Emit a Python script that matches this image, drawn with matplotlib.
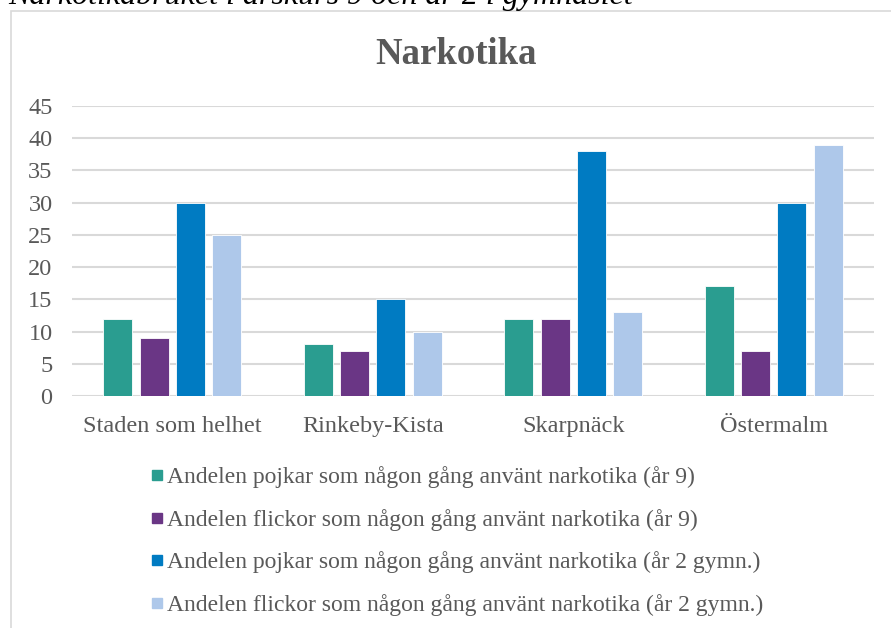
import numpy as np
import matplotlib.pyplot as plt
from matplotlib.patches import Rectangle
from matplotlib.lines import Line2D

plt.rcParams['font.family'] = ['Liberation Serif', 'DejaVu Serif']

categories = ["Staden som helhet", "Rinkeby-Kista", "Skarpnäck", "Östermalm"]
series_labels = [
    "Andelen pojkar som någon gång använt narkotika (år 9)",
    "Andelen flickor som någon gång använt narkotika (år 9)",
    "Andelen pojkar som någon gång använt narkotika (år 2 gymn.)",
    "Andelen flickor som någon gång använt narkotika (år 2 gymn.)",
]
boys9 = [12, 8, 12, 17]
girls9 = [9, 7, 12, 7]
boys_gy2 = [30, 15, 38, 30]
girls_gy2 = [25, 10, 13, 39]
colors = ["#2A9D90", "#6A3685", "#007BC2", "#AEC8EA"]

grey = "#595959"
fig = plt.figure(figsize=(8.91, 6.28), dpi=100)

# outer chart frame (partly cut off, like the screenshot)
fig.patches.append(Rectangle((11 / 891, -0.1), 2.0, 1.1 - 11 / 628,
                             transform=fig.transFigure, fill=False,
                             edgecolor="#D9D9D9", linewidth=1.2))

# caption above the chart, cut off at the top edge
fig.text(8 / 891, 1 - 4 / 628, "Narkotikabruket i årskurs 9 och år 2 i gymnasiet",
         fontsize=23, style="italic", color="black", va="baseline", ha="left")

ax = fig.add_axes([72 / 891, 1 - 396 / 628, (874 - 72) / 891, (396 - 106) / 628])

x = np.arange(len(categories))
slot = 0.181
width = 0.145
for i, (vals, col) in enumerate(zip([boys9, girls9, boys_gy2, girls_gy2], colors)):
    ax.bar(x + (i - 1.5) * slot, vals, width, color=col, edgecolor="white",
           linewidth=0.6, zorder=3)

ax.set_xlim(-0.5, len(categories) - 0.5)
ax.set_ylim(0, 45)
ax.set_yticks(range(0, 46, 5))
ax.set_xticks(x)
ax.set_xticklabels(categories)
ax.tick_params(axis="both", length=0, labelsize=17.5, labelcolor=grey)
ax.tick_params(axis="y", pad=14)
ax.tick_params(axis="x", pad=14.5)
ax.grid(axis="y", color="#D9D9D9", linewidth=1.5, zorder=0)
for s in ax.spines.values():
    s.set_visible(False)

fig.text(0.512, 1 - 55 / 628, "Narkotika", fontsize=26.5, fontweight="bold",
         color=grey, ha="center", va="center")

handles = [Line2D([], [], marker="s", linestyle="none", markersize=7.5,
                  markerfacecolor=c, markeredgecolor=c) for c in colors]
fig.legend(handles, series_labels, loc="upper left",
           bbox_to_anchor=(142 / 891, 1 - 457 / 628), frameon=False,
           fontsize=17, labelcolor=grey, handlelength=0.5, handletextpad=0.15,
           labelspacing=0.87, borderaxespad=0)

fig.savefig("out.png", dpi=100)
